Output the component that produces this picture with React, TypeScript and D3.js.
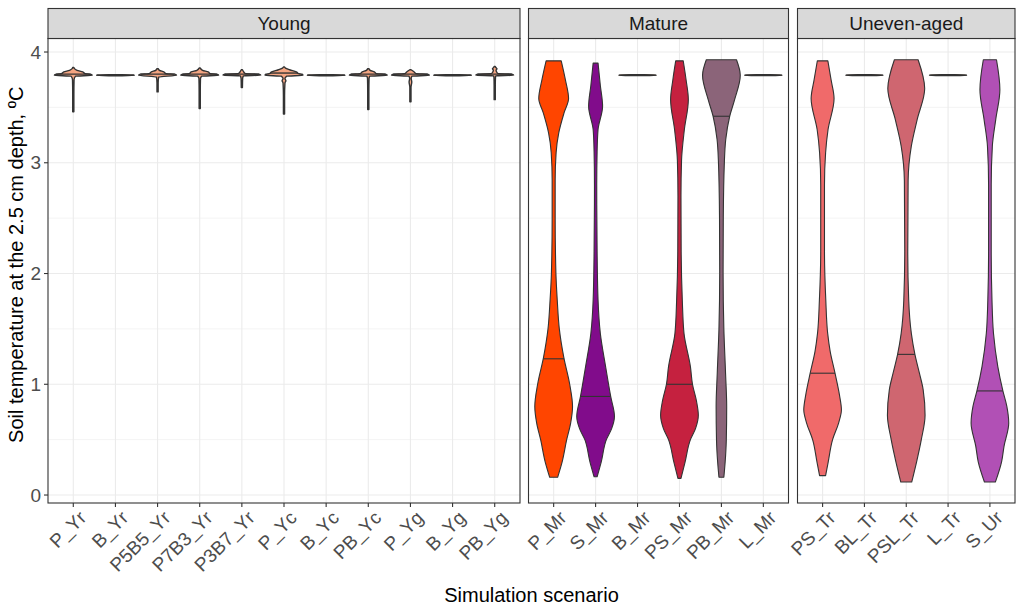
import React from "react";
import * as d3 from "d3";

// ---------- DATA ----------
const facetNames = ["Young", "Mature", "Uneven-aged"];
const categoriesYoung = ["P_Yr", "B_Yr", "P5B5_Yr", "P7B3_Yr", "P3B7_Yr", "P_Yc", "B_Yc", "PB_Yc", "P_Yg", "B_Yg", "PB_Yg"];
const categoriesMature = ["P_Mr", "S_Mr", "B_Mr", "PS_Mr", "PB_Mr", "L_Mr"];
const categoriesUneven = ["PS_Tr", "BL_Tr", "PSL_Tr", "L_Tr", "S_Ur"];
const yTicks = [0, 1, 2, 3, 4];
const yMinorTicks = [0.5, 1.5, 2.5, 3.5];

// density profiles: [temperature °C, relative density (max = 1)]
const dens_P_Yr: [number, number][] = [[3.46, 0.03], [3.62, 0.03], [3.75, 0.04], [3.782, 0.12], [3.79, 1.0], [3.8, 0.9], [3.805, 0.62], [3.82, 0.5], [3.835, 0.2], [3.85, 0.06], [3.86, 0.03]];
const dens_B_Yr: [number, number][] = [[3.786, 0.35], [3.791, 1.0], [3.796, 0.35]];
const dens_P5B5_Yr: [number, number][] = [[3.64, 0.03], [3.72, 0.03], [3.775, 0.06], [3.79, 1.0], [3.8, 0.9], [3.805, 0.45], [3.82, 0.33], [3.835, 0.1], [3.85, 0.03]];
const dens_P7B3_Yr: [number, number][] = [[3.49, 0.03], [3.64, 0.03], [3.76, 0.04], [3.782, 0.1], [3.79, 1.0], [3.8, 0.9], [3.805, 0.55], [3.82, 0.45], [3.835, 0.15], [3.855, 0.03]];
const dens_P3B7_Yr: [number, number][] = [[3.68, 0.03], [3.76, 0.04], [3.785, 0.08], [3.79, 1.0], [3.8, 0.9], [3.805, 0.18], [3.82, 0.1], [3.84, 0.03]];
const dens_P_Yc: [number, number][] = [[3.44, 0.03], [3.6, 0.03], [3.72, 0.05], [3.74, 0.1], [3.76, 0.05], [3.782, 0.15], [3.79, 1.0], [3.8, 0.95], [3.805, 0.78], [3.82, 0.65], [3.84, 0.3], [3.855, 0.08], [3.865, 0.03]];
const dens_B_Yc: [number, number][] = [[3.786, 0.35], [3.791, 1.0], [3.796, 0.35]];
const dens_PB_Yc: [number, number][] = [[3.48, 0.03], [3.64, 0.03], [3.76, 0.04], [3.782, 0.08], [3.79, 1.0], [3.8, 0.9], [3.805, 0.42], [3.82, 0.32], [3.835, 0.1], [3.85, 0.03]];
const dens_P_Yg: [number, number][] = [[3.55, 0.03], [3.68, 0.03], [3.73, 0.07], [3.76, 0.04], [3.782, 0.08], [3.79, 1.0], [3.8, 0.9], [3.805, 0.3], [3.82, 0.2], [3.84, 0.03]];
const dens_B_Yg: [number, number][] = [[3.786, 0.35], [3.791, 1.0], [3.796, 0.35]];
const dens_PB_Yg: [number, number][] = [[3.57, 0.03], [3.7, 0.03], [3.77, 0.04], [3.785, 0.06], [3.79, 1.0], [3.8, 0.9], [3.805, 0.18], [3.82, 0.1], [3.835, 0.07], [3.85, 0.12], [3.86, 0.06], [3.87, 0.03]];

const dens_P_Mr: [number, number][] = [[0.16, 0.21], [0.3, 0.45], [0.5, 0.69], [0.65, 0.9], [0.8, 1.0], [1.0, 0.85], [1.24, 0.54], [1.5, 0.3], [1.76, 0.19], [2.0, 0.12], [2.5, 0.08], [2.84, 0.08], [3.09, 0.13], [3.27, 0.27], [3.45, 0.55], [3.58, 0.79], [3.75, 0.62], [3.92, 0.4]];
const dens_S_Mr: [number, number][] = [[0.165, 0.08], [0.3, 0.3], [0.5, 0.57], [0.6, 0.85], [0.71, 1.0], [0.89, 0.8], [1.16, 0.53], [1.46, 0.25], [1.76, 0.13], [2.2, 0.08], [2.8, 0.06], [3.1, 0.08], [3.3, 0.13], [3.51, 0.37], [3.7, 0.25], [3.9, 0.13]];
const dens_B_Mr: [number, number][] = [[3.786, 0.35], [3.791, 1.0], [3.796, 0.35]];
const dens_PS_Mr: [number, number][] = [[0.15, 0.08], [0.3, 0.3], [0.5, 0.58], [0.6, 0.85], [0.72, 1.0], [0.85, 0.9], [1.0, 0.69], [1.16, 0.58], [1.46, 0.24], [1.76, 0.15], [2.2, 0.09], [2.7, 0.08], [3.02, 0.11], [3.3, 0.26], [3.57, 0.47], [3.75, 0.35], [3.92, 0.2]];
const dens_PB_Mr: [number, number][] = [[0.16, 0.13], [0.3, 0.2], [0.5, 0.26], [0.8, 0.28], [1.1, 0.22], [1.5, 0.13], [2.0, 0.09], [2.5, 0.1], [3.02, 0.16], [3.21, 0.23], [3.42, 0.44], [3.57, 0.7], [3.79, 1.0], [3.93, 0.8]];
const dens_L_Mr: [number, number][] = [[3.786, 0.35], [3.791, 1.0], [3.796, 0.35]];

const dens_PS_Tr: [number, number][] = [[0.175, 0.16], [0.3, 0.3], [0.5, 0.53], [0.65, 0.85], [0.77, 1.0], [0.9, 0.9], [1.1, 0.66], [1.3, 0.4], [1.46, 0.27], [1.76, 0.17], [2.2, 0.1], [2.8, 0.1], [3.09, 0.16], [3.3, 0.29], [3.58, 0.61], [3.75, 0.45], [3.92, 0.28]];
const dens_BL_Tr: [number, number][] = [[3.786, 0.35], [3.791, 1.0], [3.796, 0.35]];
const dens_PSL_Tr: [number, number][] = [[0.117, 0.29], [0.3, 0.55], [0.5, 0.8], [0.72, 1.0], [0.95, 0.9], [1.1, 0.7], [1.27, 0.46], [1.46, 0.27], [1.76, 0.13], [2.2, 0.08], [2.84, 0.1], [3.15, 0.27], [3.39, 0.58], [3.67, 0.98], [3.93, 0.63]];
const dens_L_Tr: [number, number][] = [[3.786, 0.35], [3.791, 1.0], [3.796, 0.35]];
const dens_S_Ur: [number, number][] = [[0.117, 0.29], [0.3, 0.62], [0.44, 0.75], [0.65, 1.0], [0.8, 0.9], [0.94, 0.69], [1.16, 0.42], [1.46, 0.19], [1.76, 0.11], [2.2, 0.07], [2.8, 0.07], [3.15, 0.13], [3.39, 0.31], [3.66, 0.53], [3.93, 0.35]];

const densities: Record<string, [number, number][]> = {
  P_Yr: dens_P_Yr, B_Yr: dens_B_Yr, P5B5_Yr: dens_P5B5_Yr, P7B3_Yr: dens_P7B3_Yr, P3B7_Yr: dens_P3B7_Yr,
  P_Yc: dens_P_Yc, B_Yc: dens_B_Yc, PB_Yc: dens_PB_Yc, P_Yg: dens_P_Yg, B_Yg: dens_B_Yg, PB_Yg: dens_PB_Yg,
  P_Mr: dens_P_Mr, S_Mr: dens_S_Mr, B_Mr: dens_B_Mr, PS_Mr: dens_PS_Mr, PB_Mr: dens_PB_Mr, L_Mr: dens_L_Mr,
  PS_Tr: dens_PS_Tr, BL_Tr: dens_BL_Tr, PSL_Tr: dens_PSL_Tr, L_Tr: dens_L_Tr, S_Ur: dens_S_Ur,
};

// medians (°C)
const mediansYoung = [3.8, 3.791, 3.8, 3.8, 3.8, 3.81, 3.791, 3.8, 3.8, 3.791, 3.8];
const mediansMature = [1.23, 0.89, 3.791, 1.0, 3.42, 3.791];
const mediansUneven = [1.1, 3.791, 1.27, 3.791, 0.94];

// fill colours
const colorsYoung = ["#F4A582", "#F4A582", "#F4A582", "#F4A582", "#F4A582", "#F4A582", "#F4A582", "#F4A582", "#F4A582", "#F4A582", "#F4A582"];
const colorsMature = ["#FF4500", "#810C8B", "#D2691E", "#C5213F", "#8B6479", "#A0522D"];
const colorsUneven = ["#F06A6A", "#E9967A", "#CF6670", "#CD853F", "#B150B5"];

// ---------- LAYOUT ----------
const W = 1024, H = 614;
const panelTop = 38.5, panelBottom = 503, stripTop = 8.5;
const panelX = [[48, 520], [528.5, 788.5], [797.5, 1015]];
const catsByPanel = [categoriesYoung, categoriesMature, categoriesUneven];
const mediansByPanel = [mediansYoung, mediansMature, mediansUneven];
const colorsByPanel = [colorsYoung, colorsMature, colorsUneven];

const FONT = "'Liberation Sans', Arial, Helvetica, sans-serif";
const TICK_FS = 19;
const TITLE_FS = 20;

export default function App() {
  const y = d3.scaleLinear().domain([-0.072, 4.122]).range([panelBottom, panelTop]);

  return (
    <div style={{ position: "fixed", left: 0, top: 0 }}>
      <svg width={W} height={H} style={{ display: "block", background: "#fff" }} fontFamily={FONT}>
        <rect x={0} y={0} width={W} height={H} fill="#fff" />
        {facetNames.map((name, pi) => {
          const [x0, x1] = panelX[pi];
          const cats = catsByPanel[pi];
          const x = d3.scalePoint<string>().domain(cats).range([x0, x1]).padding(0.6);
          const step = x.step();
          const wScale = d3.scaleLinear().domain([0, 1]).range([0, 0.45 * step]);
          return (
            <g key={name}>
              {/* grid */}
              {yMinorTicks.map((t) => (
                <line key={"mn" + t} x1={x0} x2={x1} y1={y(t)} y2={y(t)} stroke="#EBEBEB" strokeWidth={0.6} />
              ))}
              {yTicks.map((t) => (
                <line key={"mj" + t} x1={x0} x2={x1} y1={y(t)} y2={y(t)} stroke="#EBEBEB" strokeWidth={1.1} />
              ))}
              {cats.map((c) => (
                <line key={"vg" + c} x1={x(c)} x2={x(c)} y1={panelTop} y2={panelBottom} stroke="#EBEBEB" strokeWidth={1.1} />
              ))}
              {/* violins */}
              {cats.map((c, ci) => {
                const cx = x(c) as number;
                const data = densities[c];
                const area = d3
                  .area<[number, number]>()
                  .y((d) => y(d[0]))
                  .x0((d) => cx - wScale(d[1]))
                  .x1((d) => cx + wScale(d[1]))
                  .curve(d3.curveMonotoneY);
                const med = mediansByPanel[pi][ci];
                let md = 0;
                for (let k = 0; k < data.length - 1; k++) {
                  if (med >= data[k][0] && med <= data[k + 1][0]) {
                    const f = (med - data[k][0]) / (data[k + 1][0] - data[k][0]);
                    md = data[k][1] + f * (data[k + 1][1] - data[k][1]);
                  }
                }
                const sw = pi === 0 ? 1.4 : 1.1;
                return (
                  <g key={"v" + c}>
                    <path d={area(data) || ""} fill={colorsByPanel[pi][ci]} stroke="#333333" strokeWidth={sw} strokeLinejoin="round" />
                    <line x1={cx - wScale(md)} x2={cx + wScale(md)} y1={y(med)} y2={y(med)} stroke="#333333" strokeWidth={sw} />
                  </g>
                );
              })}
              {/* panel border */}
              <rect x={x0} y={panelTop} width={x1 - x0} height={panelBottom - panelTop} fill="none" stroke="#333333" strokeWidth={1.1} />
              {/* strip */}
              <rect x={x0} y={stripTop} width={x1 - x0} height={panelTop - stripTop} fill="#D9D9D9" stroke="#333333" strokeWidth={1.1} />
              <text x={(x0 + x1) / 2} y={(stripTop + panelTop) / 2} dy="0.35em" textAnchor="middle" fontSize={TICK_FS} fill="#1A1A1A">
                {name}
              </text>
              {/* x ticks & labels */}
              {cats.map((c) => (
                <g key={"xt" + c}>
                  <line x1={x(c)} x2={x(c)} y1={panelBottom} y2={panelBottom + 4} stroke="#333333" strokeWidth={1.1} />
                  <text
                    transform={`translate(${(x(c) as number) + 4},${panelBottom + 6}) rotate(-45)`}
                    textAnchor="end"
                    dy="0.75em"
                    fontSize={TICK_FS}
                    fill="#4D4D4D"
                  >
                    {c}
                  </text>
                </g>
              ))}
            </g>
          );
        })}
        {/* y axis ticks and labels */}
        {yTicks.map((t) => (
          <g key={"yt" + t}>
            <line x1={44} x2={48} y1={y(t)} y2={y(t)} stroke="#333333" strokeWidth={1.1} />
            <text x={41} y={y(t)} dy="0.35em" textAnchor="end" fontSize={TICK_FS} fill="#4D4D4D">
              {t}
            </text>
          </g>
        ))}
        {/* axis titles */}
        <text x={(48 + 1015) / 2} y={602} textAnchor="middle" fontSize={TITLE_FS} fill="#000">
          Simulation scenario
        </text>
        <text transform={`translate(23,${(panelTop + panelBottom) / 2 - 6}) rotate(-90)`} textAnchor="middle" fontSize={TITLE_FS} fill="#000">
          Soil temperature at the 2.5 cm depth, ºC
        </text>
      </svg>
    </div>
  );
}
